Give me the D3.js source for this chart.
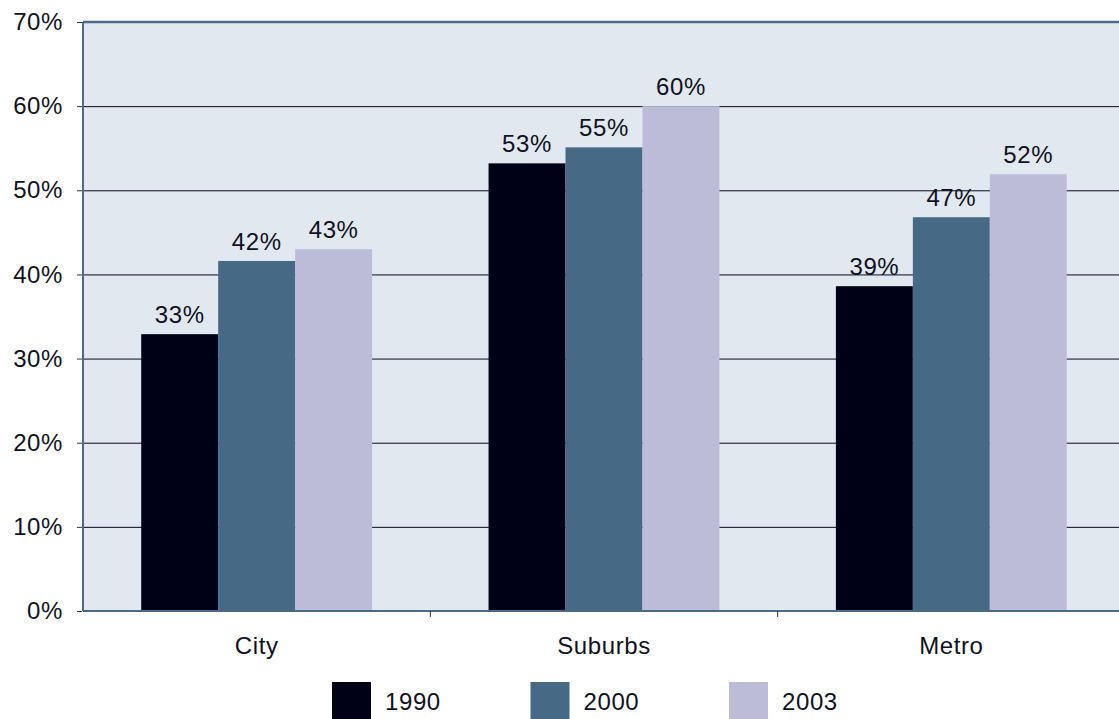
<!DOCTYPE html>
<html><head><meta charset="utf-8">
<script src="https://cdn.jsdelivr.net/npm/d3@7"></script>
<style>body{margin:0;background:#fff;} svg{display:block;font-family:"Liberation Sans",Arial,Helvetica,sans-serif;}</style>
</head><body>
<svg id="chart" width="1119" height="719"></svg>
<script>
const categories = ["City", "Suburbs", "Metro"];
const seriesNames = ["1990", "2000", "2003"];
const values1990 = [32.9, 53.2, 38.6];
const values2000 = [41.6, 55.1, 46.8];
const values2003 = [43.0, 60.0, 51.9];
const yTicks = [0, 10, 20, 30, 40, 50, 60, 70];
const colors = ["#000016", "#466a86", "#bcbcd9"];

(function () {
const series = [values1990, values2000, values2003];
const svg = d3.select("#chart");
const pL = 83, pR = 1125, pT = 22, pB = 611;
const FS = 24, LS = "0.6px", TXT = "#111122";

const x = d3.scaleBand().domain(categories).range([pL, pR]).paddingInner(0).paddingOuter(0);
const xs = d3.scaleBand().domain(seriesNames).range([0, x.bandwidth()]).paddingInner(0).paddingOuter(0.7565);
const y = d3.scaleLinear().domain([0, 70]).range([pB, pT]);

// plot background
svg.append("rect").attr("x", pL).attr("y", pT).attr("width", pR - pL).attr("height", pB - pT).attr("fill", "#e1e8f0");

// gridlines
svg.append("g").selectAll("line").data(yTicks.filter(t => t > 0 && t < 70)).join("line")
  .attr("x1", pL).attr("x2", pR).attr("y1", d => y(d) + 0.5).attr("y2", d => y(d) + 0.5)
  .attr("stroke", "#0a0a20").attr("stroke-width", 1);

// bars
const rows = (c, i) => seriesNames.map((s, j) => ({s, v: series[j][i], j}));
const groups = svg.append("g").selectAll("g").data(categories).join("g")
  .attr("transform", c => `translate(${x(c)},0)`);
groups.selectAll("rect").data(rows).join("rect")
  .attr("x", d => xs(d.s)).attr("width", xs.bandwidth())
  .attr("y", d => y(d.v)).attr("height", d => y(0) - y(d.v))
  .attr("fill", d => colors[d.j]);
groups.selectAll("text").data(rows).join("text")
  .attr("x", d => xs(d.s) + xs.bandwidth() / 2).attr("y", d => y(d.v) - 11)
  .attr("text-anchor", "middle").attr("font-size", FS).attr("letter-spacing", LS).attr("fill", TXT)
  .text(d => d3.format(".0f")(d.v) + "%");

// frame (left, top, bottom)
svg.append("line").attr("x1", pL).attr("x2", pR).attr("y1", pT).attr("y2", pT).attr("stroke", "#4a6a88").attr("stroke-width", 2.5);
svg.append("line").attr("x1", pL).attr("x2", pR).attr("y1", pB).attr("y2", pB).attr("stroke", "#4a6a88").attr("stroke-width", 2);
svg.append("line").attr("x1", pL).attr("x2", pL).attr("y1", pT).attr("y2", pB).attr("stroke", "#4a6a88").attr("stroke-width", 2);

// y axis
const yAxis = d3.axisLeft(y).tickValues(yTicks).tickSize(5).tickPadding(14).tickFormat(d => d + "%");
const ya = svg.append("g").attr("transform", `translate(${pL - 1},0)`).call(yAxis);
ya.select(".domain").remove();
ya.selectAll(".tick line").attr("stroke", "#333");
ya.selectAll(".tick text").attr("font-size", FS).attr("letter-spacing", LS).attr("fill", TXT).attr("font-family", "Liberation Sans, Arial, sans-serif");

// x axis
const xAxis = d3.axisBottom(x).tickSize(0).tickPadding(26);
const xa = svg.append("g").attr("transform", `translate(0,${pB})`).call(xAxis);
xa.select(".domain").remove();
xa.selectAll(".tick text").attr("font-size", FS).attr("letter-spacing", LS).attr("fill", TXT).attr("font-family", "Liberation Sans, Arial, sans-serif");
// category separators
svg.append("g").selectAll("line").data(categories.slice(1)).join("line")
  .attr("x1", c => x(c)).attr("x2", c => x(c)).attr("y1", pB).attr("y2", pB + 6)
  .attr("stroke", "#333").attr("stroke-width", 1);

// legend
const legend = svg.append("g").selectAll("g").data(seriesNames).join("g")
  .attr("transform", (d, i) => `translate(${332 + i * 198.5},682)`);
legend.append("rect").attr("width", 39).attr("height", 37).attr("fill", (d, i) => colors[i]);
legend.append("text").attr("x", 53).attr("y", 28).attr("font-size", FS).attr("letter-spacing", LS).attr("fill", TXT).text(d => d);
})();
</script>
</body></html>
